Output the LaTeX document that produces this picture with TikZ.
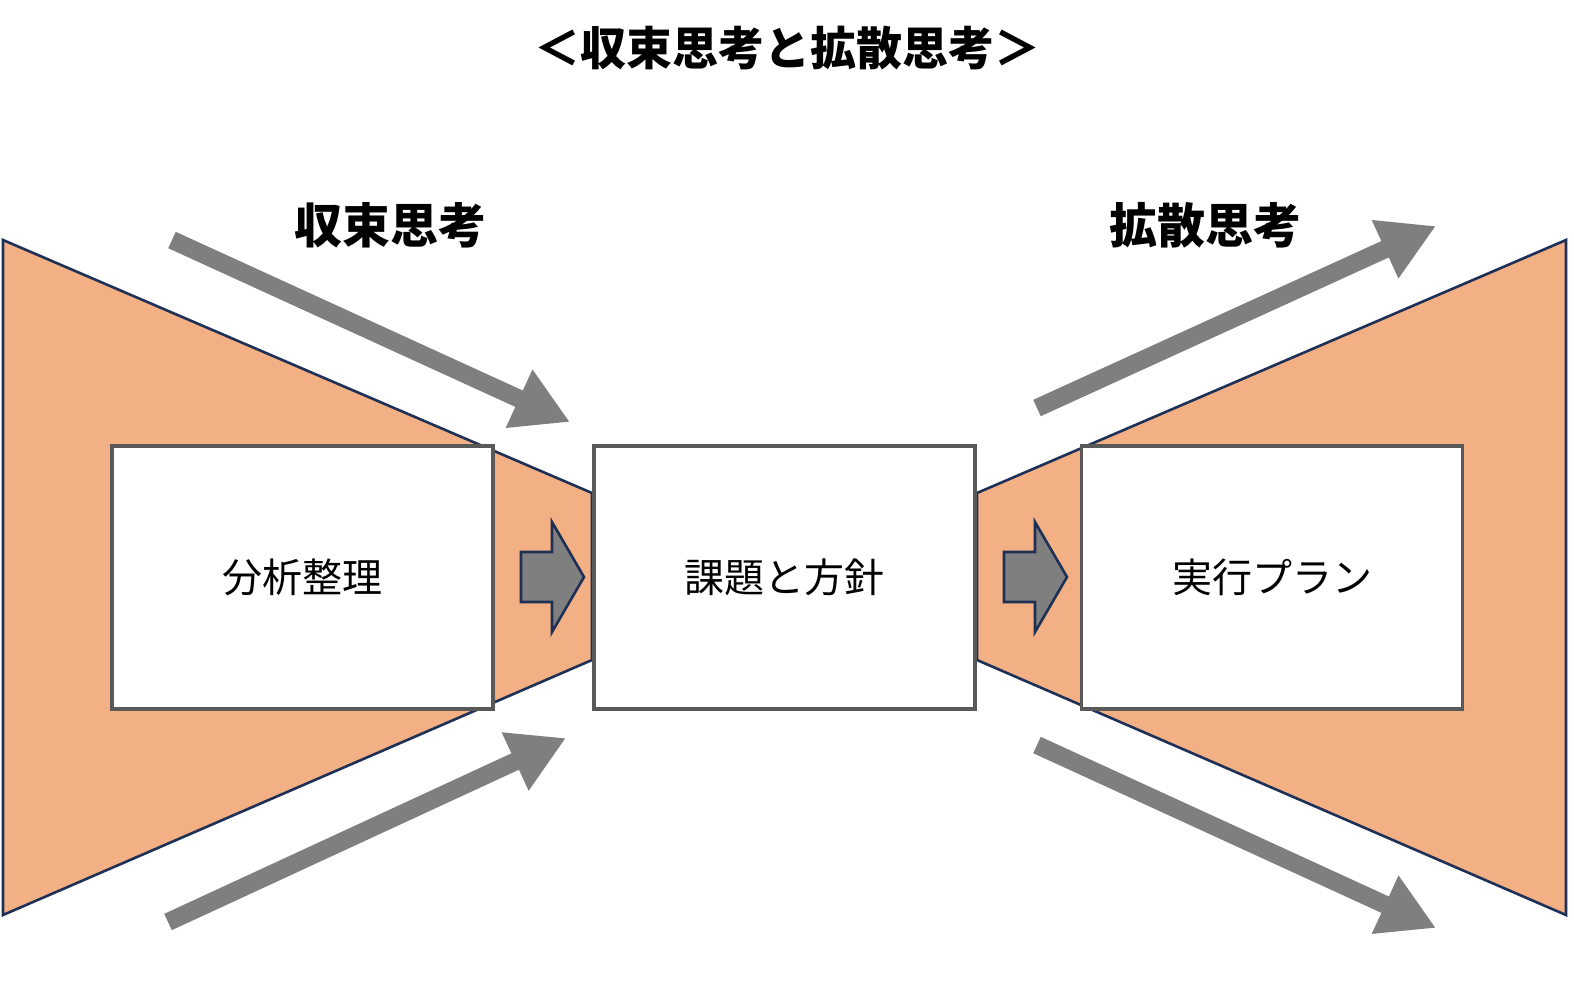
\documentclass[tikz,border=0pt]{standalone}
\usepackage{fontspec}
\setmainfont{Noto Sans CJK JP}
\usetikzlibrary{arrows.meta}
\definecolor{peach}{HTML}{F2B084}
\definecolor{navy}{HTML}{1F3057}
\definecolor{ag}{HTML}{7F7F7F}
\begin{document}
\begin{tikzpicture}[x=0.5pt,y=-0.5pt,
  box/.style={draw=black!65,line width=1.6pt,fill=white,minimum width=190.5pt,minimum height=131.5pt,font=\fontsize{20}{24}\selectfont},
  big/.style={draw=ag,line width=9pt,-{Triangle[width=30pt,length=28pt]}},
  blk/.style={fill=ag,draw=navy,line width=1.3pt},
  hd/.style={font=\bfseries\fontsize{24}{28}\selectfont}]
\useasboundingbox (0,0) rectangle (1574,998);
\fill[white] (0,0) rectangle (1574,998);
\filldraw[fill=peach,draw=navy,line width=1.3pt] (3,240)--(592,493)--(592,660)--(3,915)--cycle;
\filldraw[fill=peach,draw=navy,line width=1.3pt] (1566,240)--(977,493)--(977,660)--(1566,915)--cycle;
\node[box] (a) at (302.5,577.5) {分析整理};
\node[box] (b) at (784.5,577.5) {課題と方針};
\node[box] (c) at (1272,577.5) {実行プラン};
\draw[blk] (521,552)--(552,552)--(552,522)--(584,577)--(552,632)--(552,602)--(521,602)--cycle;
\draw[blk] (1004,552)--(1035,552)--(1035,522)--(1067,577)--(1035,632)--(1035,602)--(1004,602)--cycle;
\coordinate (p1) at (172,240); \coordinate (q1) at (570,422);
\coordinate (p2) at (168,922); \coordinate (q2) at (566,738);
\coordinate (p3) at (1037,408); \coordinate (q3) at (1436,226);
\coordinate (p4) at (1037,745); \coordinate (q4) at (1436,928);
\draw[big] (p1)--(q1);
\draw[big] (p2)--(q2);
\draw[big] (p3)--(q3);
\draw[big] (p4)--(q4);
\node[font=\bfseries\fontsize{23}{28}\selectfont] (t) at (787,48) {＜収束思考と拡散思考＞};
\node[hd] (l) at (390,225) {収束思考};
\node[hd] (r) at (1205,225) {拡散思考};
\end{tikzpicture}
\end{document}
